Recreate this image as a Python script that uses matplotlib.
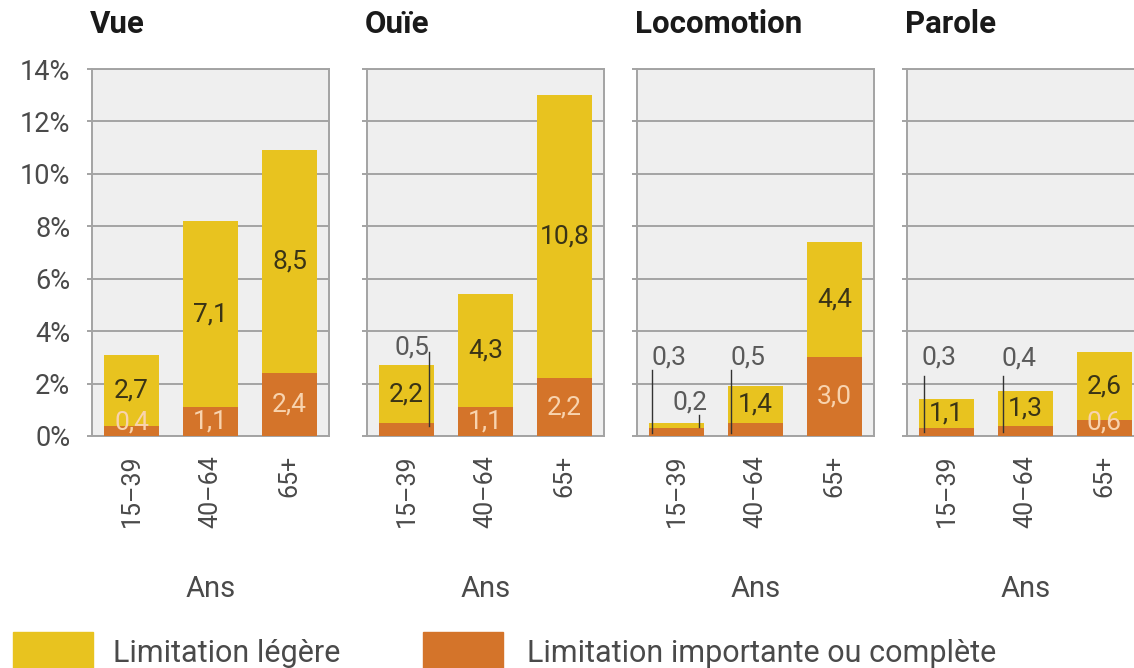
import numpy as np
import matplotlib.pyplot as plt
from matplotlib.patches import Rectangle

plt.rcParams['font.family'] = ['Roboto', 'DejaVu Sans']

panels = ['Vue', 'Ouïe', 'Locomotion', 'Parole']
ages = ['15–39', '40–64', '65+']
# Limitation importante ou complète (bas des barres), en %
importante = [[0.4, 1.1, 2.4],
              [0.5, 1.1, 2.2],
              [0.3, 0.5, 3.0],
              [0.3, 0.4, 0.6]]
# Limitation légère (haut des barres), en %
legere = [[2.7, 7.1, 8.5],
          [2.2, 4.3, 10.8],
          [0.2, 1.4, 4.4],
          [1.1, 1.3, 2.6]]
yticks = [0, 2, 4, 6, 8, 10, 12, 14]
legend_labels = ['Limitation légère', 'Limitation importante ou complète']

YELLOW = '#E8C31F'
ORANGE = '#D4742A'
GRID = '#a3a3a3'
BG = '#efefef'
DARK = '#3a3416'
LIGHT = '#F8D3AE'
GREY_TXT = '#5a5a5a'
TXT = '#4a4a4a'

# labels that sit outside the bar with a leader line
# (panel, bar, 'imp'/'leg') -> (text dx, text y, line dx, line y top, line y bottom)
callouts = {
    (1, 0, 'imp'): (0.07, 3.36, 0.28, 3.2, 0.4),
    (2, 0, 'imp'): (-0.1, 3.0, -0.31, 2.5, 0.1),
    (2, 0, 'leg'): (0.17, 1.26, 0.29, 0.8, 0.35),
    (2, 1, 'imp'): (-0.1, 3.0, -0.31, 2.5, 0.1),
    (3, 0, 'imp'): (-0.1, 3.0, -0.29, 2.3, 0.15),
    (3, 1, 'imp'): (-0.08, 2.95, -0.29, 2.3, 0.15),
}

def fmt(v):
    return f'{v:.1f}'.replace('.', ',')

W, H = 1134, 668
fig = plt.figure(figsize=(W / 100, H / 100), dpi=100)

lefts = [92, 367, 637, 907]
pw = 237
top, bottom = 69, 436

for p, name in enumerate(panels):
    ax = fig.add_axes([lefts[p] / W, 1 - bottom / H, pw / W, (bottom - top) / H])
    ax.set_facecolor(BG)
    x = np.arange(len(ages))
    imp = np.array(importante[p])
    leg = np.array(legere[p])
    ax.bar(x, imp, width=0.69, color=ORANGE, zorder=3)
    ax.bar(x, leg, bottom=imp, width=0.69, color=YELLOW, zorder=3)

    for i in range(len(ages)):
        key = (p, i, 'imp')
        if key in callouts:
            tdx, ty, ldx, ly0, ly1 = callouts[key]
            ax.text(i + tdx, ty, fmt(imp[i]), ha='center', va='center',
                    fontsize=19, color=GREY_TXT, zorder=5)
            ax.plot([i + ldx, i + ldx], [ly0, ly1], color='#333333', lw=1, zorder=5)
        else:
            ax.text(i, max(imp[i] / 2, 0.5), fmt(imp[i]), ha='center', va='center',
                    fontsize=19, color=LIGHT, zorder=5)
        key = (p, i, 'leg')
        if key in callouts:
            tdx, ty, ldx, ly0, ly1 = callouts[key]
            ax.text(i + tdx, ty, fmt(leg[i]), ha='center', va='center',
                    fontsize=19, color=GREY_TXT, zorder=5)
            ax.plot([i + ldx, i + ldx], [ly0, ly1], color='#333333', lw=1, zorder=5)
        else:
            ax.text(i, imp[i] + leg[i] / 2, fmt(leg[i]), ha='center', va='center',
                    fontsize=19, color=DARK, zorder=5)

    ax.set_xlim(-0.5, 2.5)
    ax.set_ylim(0, 14)
    ax.set_yticks(yticks)
    ax.grid(axis='y', color=GRID, lw=1.4, zorder=0)
    ax.set_axisbelow(True)
    for s in ax.spines.values():
        s.set_color(GRID)
        s.set_linewidth(1.4)
    ax.tick_params(axis='y', length=3.6, width=1.4, color=GRID, pad=12,
                   labelsize=19.5, labelcolor=TXT)
    if p == 0:
        ax.set_yticklabels([f'{t}%' for t in yticks])
    else:
        ax.set_yticklabels([])
    ax.set_xticks(x)
    ax.set_xticklabels(ages, rotation=90)
    ax.tick_params(axis='x', length=0, pad=13.5, labelsize=18, labelcolor=TXT)

    fig.text((lefts[p] - 2) / W, 1 - 33 / H, name, ha='left', va='baseline',
             fontsize=22.5, fontweight='bold', color='#1a1a1a')
    fig.text((lefts[p] + pw / 2) / W, 1 - 597 / H, 'Ans', ha='center', va='baseline',
             fontsize=21, color=TXT)

# legend
for xl, col, lab, xt in [(13, YELLOW, legend_labels[0], 113), (423, ORANGE, legend_labels[1], 527)]:
    fig.patches.append(Rectangle((xl / W, 0), 80 / W, (H - 632) / H,
                                 transform=fig.transFigure, color=col, figure=fig))
    fig.text(xt / W, 1 - 662 / H, lab, ha='left', va='baseline', fontsize=22, color=TXT)

fig.savefig('out.png', dpi=100, facecolor='white')
